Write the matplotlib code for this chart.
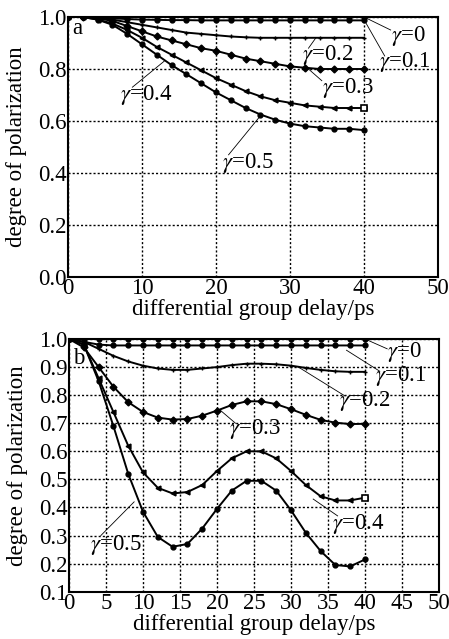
import numpy as np
import matplotlib
matplotlib.use("Agg")
import matplotlib.pyplot as plt

plt.rcParams["font.family"] = ["Liberation Serif", "DejaVu Serif"]
plt.rcParams["mathtext.fontset"] = "stix"

# ── data: panel a ──
x_a = list(range(0, 42, 2))
a_g0 = [1.0] * 21
a_g01 = [1.0, 1.0, 0.998, 0.995, 0.992, 0.99, 0.989, 0.988, 0.988, 0.987, 0.987,
         0.987, 0.987, 0.987, 0.987, 0.987, 0.987, 0.987, 0.987, 0.987, 0.987]
a_g02 = [1.0, 1.0, 0.995, 0.99, 0.98, 0.97, 0.96, 0.95, 0.94, 0.935, 0.93,
         0.925, 0.922, 0.92, 0.92, 0.92, 0.92, 0.92, 0.92, 0.92, 0.92]
a_g03 = [1.0, 1.0, 0.995, 0.985, 0.965, 0.945, 0.925, 0.91, 0.895, 0.88, 0.87,
         0.855, 0.84, 0.83, 0.82, 0.81, 0.805, 0.80, 0.80, 0.80, 0.80]
a_g04 = [1.0, 1.0, 0.99, 0.975, 0.95, 0.92, 0.885, 0.855, 0.825, 0.795, 0.765,
         0.74, 0.715, 0.695, 0.68, 0.67, 0.66, 0.655, 0.65, 0.65, 0.65]
a_g05 = [1.0, 1.0, 0.99, 0.97, 0.935, 0.895, 0.855, 0.815, 0.78, 0.745, 0.71,
         0.68, 0.65, 0.625, 0.605, 0.59, 0.58, 0.575, 0.57, 0.57, 0.565]

# ── data: panel b ──
x_b = list(range(0, 42, 2))
b_g0 = [1.0] * 21
b_g01 = [1.0, 0.99, 0.98, 0.977, 0.977, 0.977, 0.977, 0.977, 0.977, 0.977, 0.977,
         0.977, 0.977, 0.977, 0.977, 0.977, 0.977, 0.977, 0.977, 0.977, 0.977]
b_g02 = [1.0, 0.99, 0.965, 0.94, 0.92, 0.905, 0.895, 0.89, 0.89, 0.895, 0.9,
         0.907, 0.912, 0.912, 0.91, 0.905, 0.897, 0.89, 0.885, 0.883, 0.883]
b_g03 = [1.0, 0.97, 0.9, 0.83, 0.775, 0.74, 0.72, 0.713, 0.715, 0.727, 0.745,
         0.765, 0.778, 0.778, 0.768, 0.75, 0.73, 0.712, 0.702, 0.697, 0.698]
b_g04 = [1.0, 0.98, 0.86, 0.74, 0.62, 0.525, 0.47, 0.45, 0.455, 0.48, 0.53,
         0.575, 0.6, 0.6, 0.575, 0.53, 0.48, 0.44, 0.425, 0.425, 0.435]
b_g05 = [1.0, 0.98, 0.85, 0.69, 0.52, 0.385, 0.295, 0.26, 0.27, 0.325, 0.395,
         0.46, 0.495, 0.495, 0.46, 0.39, 0.31, 0.245, 0.195, 0.19, 0.215]

gammas = ["0", "0.1", "0.2", "0.3", "0.4", "0.5"]
markers = ["o", "o", "+", "D", "<", "o"]

# label text position, leader start (on curve), leader end
labels_a = [
    ((43.6, 0.925), (40, 1.0), (43.6, 0.95)),
    ((42.0, 0.825), (40, 0.99), (42.8, 0.85)),
    ((31.6, 0.855), (33.5, 0.92), (32.5, 0.88)),
    ((34.3, 0.725), (32.5, 0.80), (34.3, 0.755)),
    ((7.0, 0.70), (13.0, 0.83), (8.7, 0.73)),
    ((20.8, 0.438), (26.0, 0.62), (21.7, 0.47)),
]
labels_b = [
    ((43.0, 0.955), (40, 1.0), (43.0, 0.965)),
    ((41.3, 0.867), (37.5, 0.96), (42.0, 0.885)),
    ((36.5, 0.78), (31.0, 0.9), (37.3, 0.797)),
    ((21.6, 0.68), (20.5, 0.745), (22.5, 0.70)),
    ((35.6, 0.34), (33.0, 0.43), (36.3, 0.37)),
    ((2.8, 0.265), (8.8, 0.42), (4.3, 0.30)),
]

fig = plt.figure(figsize=(4.49, 6.39), dpi=100)
ax_a = fig.add_axes([0.1514, 0.5665, 0.8241, 0.4069])
ax_b = fig.add_axes([0.1537, 0.0740, 0.8240, 0.3955])

FS = 16.5


def draw_panel(ax, x, series, labels, yticks, xticks, tag, tag_y):
    for i, y in enumerate(series):
        ax.plot(x, y, color="black", lw=1.4, marker=markers[i], ms=3.5,
                mfc="black", mec="black", mew=1.0, zorder=3)
    # end squares
    ax.plot([x[-1]], [series[4][-1]], marker="s", ms=4.5, mfc="white",
            mec="black", mew=1.2, zorder=4)
    for i, (txt, p0, p1) in enumerate(labels):
        ax.plot([p0[0], p1[0]], [p0[1], p1[1]], color="black", lw=0.6,
                zorder=2)
        ax.text(txt[0], txt[1], r"$\gamma$=" + gammas[i], fontsize=FS,
                ha="left", va="center", zorder=5)
    ax.set_xlim(0, 50)
    ax.set_ylim(yticks[0], yticks[-1])
    ax.set_xticks(xticks)
    ax.set_yticks(yticks)
    ax.set_yticklabels([f"{v:.1f}" for v in yticks])
    ax.grid(True, color="black", linestyle=(0, (1.5, 1.5)), lw=1.0)
    ax.tick_params(axis="x", length=0, labelsize=FS, pad=1)
    ax.tick_params(axis="y", length=0, labelsize=FS, pad=1)
    for s in ax.spines.values():
        s.set_linewidth(1.5)
    ax.set_xlabel("differential group delay/ps", fontsize=FS, labelpad=0)
    ax.set_ylabel("degree of polarization", fontsize=FS)
    ax.yaxis.set_label_coords(-0.11, 0.5)
    ax.text(0.6, tag_y, tag, fontsize=FS, ha="left", va="center")


draw_panel(ax_a, x_a, [a_g0, a_g01, a_g02, a_g03, a_g04, a_g05], labels_a,
           [0.0, 0.2, 0.4, 0.6, 0.8, 1.0], [0, 10, 20, 30, 40, 50], "a", 0.955)
draw_panel(ax_b, x_b, [b_g0, b_g01, b_g02, b_g03, b_g04, b_g05], labels_b,
           [0.1, 0.2, 0.3, 0.4, 0.5, 0.6, 0.7, 0.8, 0.9, 1.0],
           list(range(0, 55, 5)), "b", 0.93)

fig.savefig("out.png", dpi=100)
